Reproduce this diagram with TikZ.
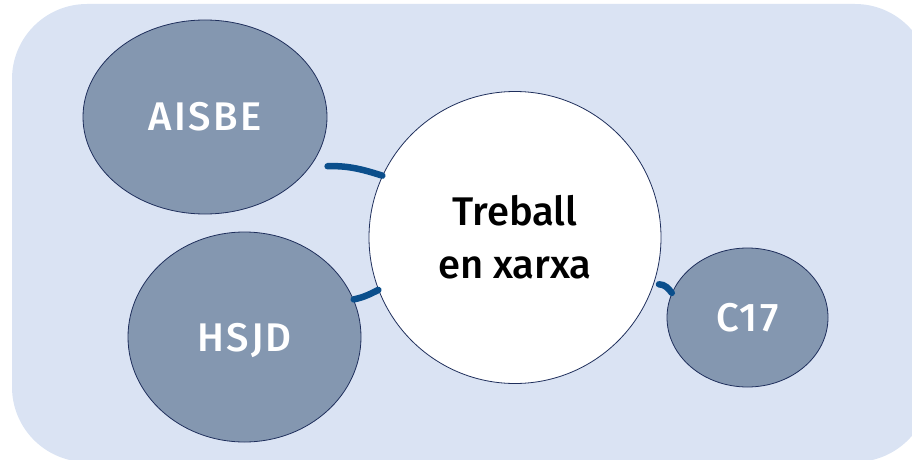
\documentclass[tikz,border=0pt]{standalone}
\usepackage{fontspec}
\setmainfont{Fira Sans Medium}
\newfontfamily\widefont[LetterSpace=6]{Fira Sans Medium}
\usetikzlibrary{shapes.geometric}
\definecolor{bgblue}{HTML}{DAE3F3}
\definecolor{ellfill}{HTML}{8497B0}
\definecolor{edge}{HTML}{1F2F5C}
\definecolor{link}{HTML}{0B4F8C}
\tikzset{
  partner/.style={ellipse, draw=edge, line width=0.8pt, fill=ellfill, text=white, font=\widefont\fontsize{40}{44}\selectfont, inner sep=0pt},
  hub/.style={circle, draw=edge, line width=0.8pt, fill=white, text=black, font=\fontsize{40}{53}\selectfont, align=center, inner sep=0pt},
  linkline/.style={draw=link, line width=6.5pt, line cap=round}
}
\begin{document}
\begin{tikzpicture}[x=1pt,y=-1pt]
\useasboundingbox (0,0) rectangle (912,460);
\fill[bgblue, rounded corners=75pt] (12,4) rectangle (930,462);
\node[partner, minimum width=244pt, minimum height=194pt] (aisbe) at (205,117) {AISBE};
\node[partner, minimum width=233pt, minimum height=210pt, text depth=-3pt] (hsjd) at (244.5,337) {HSJD};
\node[partner, minimum width=161pt, minimum height=139pt] (c17) at (747.5,317.5) {C17};
\node[hub, minimum size=292pt] (hub) at (515,237.5) {Treball\\en xarxa};
\draw[linkline] ([xshift=17pt]aisbe.-25.5) .. controls +(22,-1) and +(-16,-5) .. (hub.155.5);
\draw[linkline] (hsjd.19.4) .. controls +(10,-2) and +(-8,4) .. (hub.201);
\draw[linkline] ([shift={(-18:5pt)}]hub.-18) .. controls +(6,0) and +(-3,-4) .. (c17.162);
\end{tikzpicture}
\end{document}
